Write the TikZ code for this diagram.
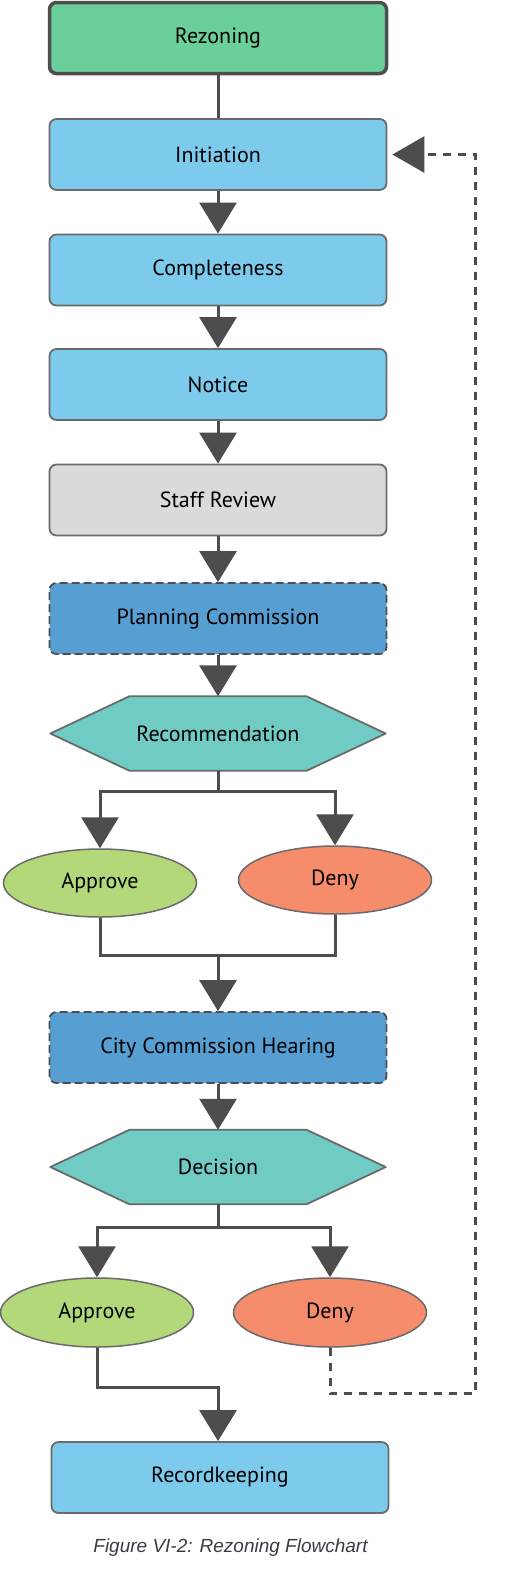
\documentclass[tikz,border=0pt]{standalone}
\usepackage{fontspec}
\setmainfont{PT Sans}
\newfontfamily\capfont{Liberation Sans}
\usepackage{tikz}
\usetikzlibrary{arrows.meta,positioning,shapes.geometric,backgrounds}
\definecolor{linec}{HTML}{4D4D4D}
\definecolor{edgec}{HTML}{6A6A6A}
\definecolor{greenc}{HTML}{6BCF9C}
\definecolor{lightc}{HTML}{7CCBED}
\definecolor{greyc}{HTML}{D9DADC}
\definecolor{darkc}{HTML}{579FD2}
\definecolor{tealc}{HTML}{70CBC4}
\definecolor{yesc}{HTML}{B2D879}
\definecolor{noc}{HTML}{F58C6C}
\definecolor{capc}{HTML}{3A3A46}
\tikzset{
  ar/.style={-{Triangle[length=31pt,width=37pt]},line width=3pt,linec},
  ln/.style={line width=3pt,linec},
  fb/.style={-{Triangle[length=32pt,width=36pt]},line width=3pt,linec,dash pattern=on 8pt off 7pt,shorten >=5pt},
  lbl/.style={inner sep=0pt,font=\fontsize{22}{24}\selectfont},
  box/.style={lbl,draw=edgec,line width=1.8pt,rounded corners=7pt,minimum width=337pt,minimum height=71pt},
  dbox/.style={box,fill=darkc,draw=linec,dash pattern=on 8pt off 4pt},
  hex/.style={lbl,minimum width=335pt,minimum height=74pt},
  hexline/.style={draw=edgec,line width=1.8pt,fill=tealc,line join=round},
  oval/.style={lbl,ellipse,draw=edgec,line width=1.5pt,minimum width=193pt,minimum height=68pt}
}
\begin{document}
\begin{tikzpicture}[x=1pt,y=-1pt]
\useasboundingbox (0,0) rectangle (510,1588);
\node[box,fill=greenc,draw=linec,line width=3.5pt] (rez) at (218,38) {Rezoning};
\node[box,fill=lightc] (ini) at (218,154.5) {Initiation};
\node[box,fill=lightc] (comp) at (218,270) {Completeness};
\node[box,fill=lightc] (notc) at (218,384.5) {Notice};
\node[box,fill=greyc] (staff) at (218,500) {Staff Review};
\node[dbox] (pc) at (218,618.5) {Planning Commission};
\node[hex] (recm) at (218,733.5) {Recommendation};
\node[oval,fill=yesc] (app1) at (100,883) {Approve};
\node[oval,fill=noc] (den1) at (335,880) {Deny};
\coordinate (j1) at (218,955);
\node[dbox] (cch) at (218,1047.5) {City Commission Hearing};
\node[hex] (dec) at (218,1167) {Decision};
\node[oval,fill=yesc,minimum height=69pt] (app2) at (97,1312.5) {Approve};
\node[oval,fill=noc,minimum height=69pt] (den2) at (330,1312.5) {Deny};
\node[box,fill=lightc] (rk) at (220,1477.5) {Recordkeeping};
\node[font=\capfont\itshape\fontsize{19}{22}\selectfont,text=capc] (cap) at (230.5,1548) {Figure VI-2: Rezoning Flowchart};
\begin{scope}[on background layer]
\foreach \h in {recm,dec}
  \draw[hexline] (\h.west) -- ([xshift=79pt]\h.north west) -- ([xshift=-79pt]\h.north east)
    -- (\h.east) -- ([xshift=-79pt]\h.south east) -- ([xshift=79pt]\h.south west) -- cycle;
\end{scope}
\draw[ln] (rez) -- (ini);
\draw[ar] (ini) -- (comp);
\draw[ar] (comp) -- (notc);
\draw[ar] (notc) -- (staff);
\draw[ar] (staff) -- (pc);
\draw[ar] (pc) -- (recm);
\draw[ar] (recm.south) -- ++(0,21) -| (app1.north);
\draw[ar] (recm.south) -- ++(0,21) -| (den1.north);
\draw[ln] (app1.south) |- (j1) -| (den1.south);
\draw[ar] (j1) -- (cch.north);
\draw[ar] (cch) -- (dec);
\draw[ar] (dec.south) -- ++(0,23) -| (app2.north);
\draw[ar] (dec.south) -- ++(0,23) -| (den2.north);
\draw[ar] (app2.south) -- ++(0,40) -| (rk.north -| j1);
\draw[fb] (den2.south) -- ++(0,46) -| ([xshift=88pt]ini.east) -- (ini.east);
\end{tikzpicture}
\end{document}
